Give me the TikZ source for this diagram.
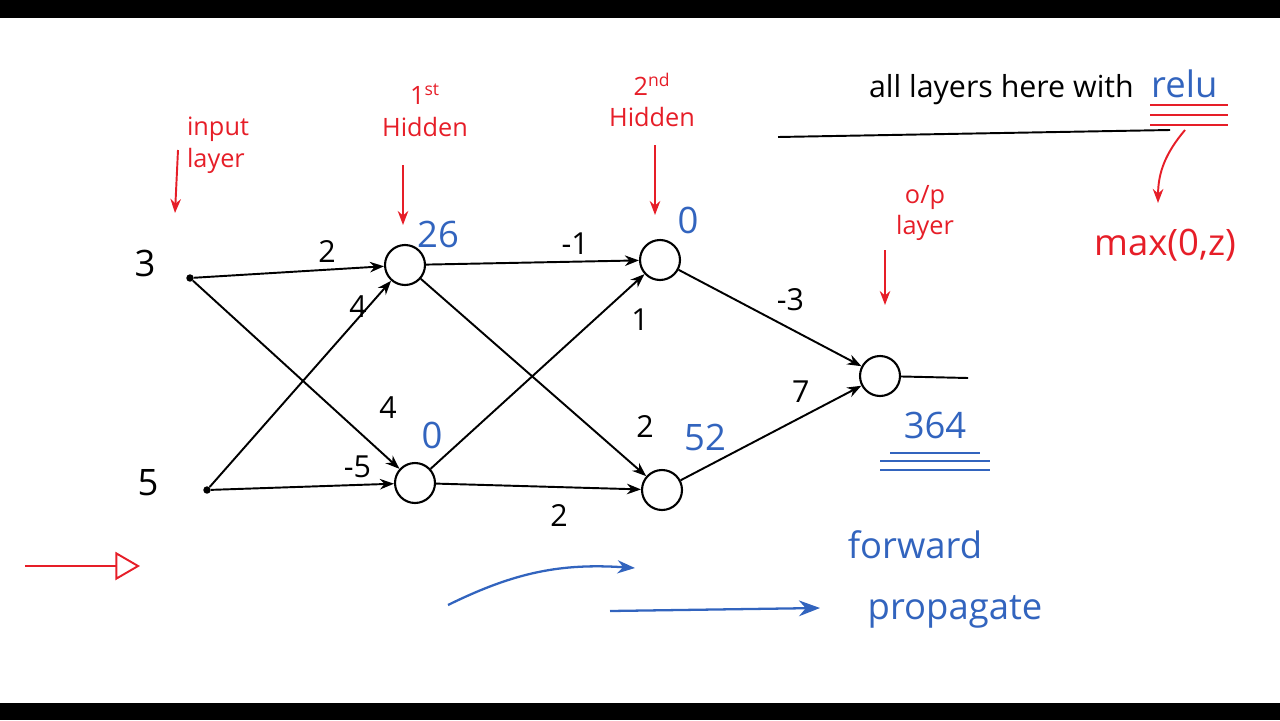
\documentclass[tikz,border=0pt]{standalone}
\usetikzlibrary{arrows.meta}
\usepackage{fontspec}
\setmainfont{Open Sans}
\definecolor{penred}{RGB}{230,30,40}
\definecolor{penblue}{RGB}{50,100,190}
\begin{document}
\begin{tikzpicture}[x=0.02cm,y=-0.02cm,
    neuron/.style={circle, draw, line width=1.2pt, minimum size=0.8cm, inner sep=0pt},
    dot/.style={circle, fill, inner sep=1.5pt},
    wire/.style={line width=1.1pt, -{Stealth[length=8pt]}},
    wlabel/.style={font=\LARGE},
    val/.style={font=\huge, text=penblue},
    note/.style={text=penred, font=\Large, align=left},
    pointer/.style={penred, line width=1.1pt, -{Stealth[length=8pt]}}]
  \useasboundingbox (0,0) rectangle (1280,720);
  \fill (0,0) rectangle (1280,18);
  \fill (0,703) rectangle (1280,720);

  % nodes
  \node[dot] (i1) at (190,278) {};
  \node[dot] (i2) at (207,490) {};
  \node[neuron] (h1) at (405,265) {};
  \node[neuron] (h2) at (415,483) {};
  \node[neuron] (k1) at (660,260) {};
  \node[neuron] (k2) at (662,490) {};
  \node[neuron] (o) at (880,376) {};
  \coordinate (oend) at (968,378);

  \node[font=\huge] (x1) at (145,263) {3};
  \node[font=\huge] (x2) at (148,483) {5};
  \node[val] (v1) at (438,234) {26};
  \node[val] (v2) at (432,435) {0};
  \node[val] (v3) at (688,220) {0};
  \node[val] (v4) at (705,437) {52};
  \node[val] (v5) at (935,425) {364};
  \foreach \y/\w in {453/45,461/55,470/55}
    \draw[penblue, line width=1.2pt] (935-\w,\y) -- (935+\w,\y);

  % connections
  \draw[wire] (i1) -- node[wlabel, above, pos=0.7] {2} (h1);
  \draw[wire] (i1) -- (h2);
  \draw[wire] (i2) -- (h1);
  \draw[wire] (i2) -- node[wlabel, above, pos=0.8] {-5} (h2);
  \draw[wire] (h1) -- node[wlabel, above, pos=0.7] {-1} (k1);
  \draw[wire] (h1) -- (k2);
  \draw[wire] (h2) -- (k1);
  \draw[wire] (h2) -- node[wlabel, below=6pt, pos=0.6] {2} (k2);
  \draw[wire] (k1) -- node[wlabel, above right] {-3} (o);
  \draw[wire] (k2) -- node[wlabel, above left, pos=0.75] {7} (o);
  \draw[line width=1.1pt] (o) -- (oend);
  \node[wlabel] (w1) at (358,307) {4};
  \node[wlabel] (w2) at (388,408) {4};
  \node[wlabel] (w3) at (640,320) {1};
  \node[wlabel] (w4) at (645,427) {2};

  % layer notes
  \node[note] (n1) at (218,145) {input\\layer};
  \draw[pointer] (178,150) -- (175,213);
  \node[note, align=center] (n2) at (425,110) {1\textsuperscript{st}\\Hidden};
  \draw[pointer] (403,165) -- (403,225);
  \node[note, align=center] (n3) at (652,100) {2\textsuperscript{nd}\\Hidden};
  \draw[pointer] (655,145) -- (655,215);
  \node[note, align=center] (n4) at (925,213) {o/p\\layer};
  \draw[pointer] (885,250) -- (885,305);

  \node[font=\LARGE, anchor=east] (t1) at (1140,90) {all layers here with};
  \node[font=\huge, text=penblue, anchor=west] (relu) at (1145,84) {relu};
  \draw[line width=1.1pt] (778,137) -- (1170,130);
  \foreach \y in {105,115,125}
    \draw[penred, line width=1pt] (1150,\y) -- (1228,\y);
  \node[note, font=\huge] (mx) at (1165,245) {max(0,z)};
  \draw[pointer] (1185,130) to[bend right=20] (1158,203);

  % propagation
  \draw[penred, line width=1.1pt, -{Triangle[open, length=14pt, width=16pt]}] (25,566) -- (140,566);
  \node[text=penblue, font=\huge] (f1) at (915,545) {forward};
  \node[text=penblue, font=\huge] (f2) at (955,612) {propagate};
  \draw[penblue, line width=1.3pt, -{Stealth[length=10pt]}] (448,605) to[bend left=15] (635,568);
  \draw[penblue, line width=1.3pt, -{Stealth[length=12pt]}] (610,611) -- (820,608);
\end{tikzpicture}
\end{document}
